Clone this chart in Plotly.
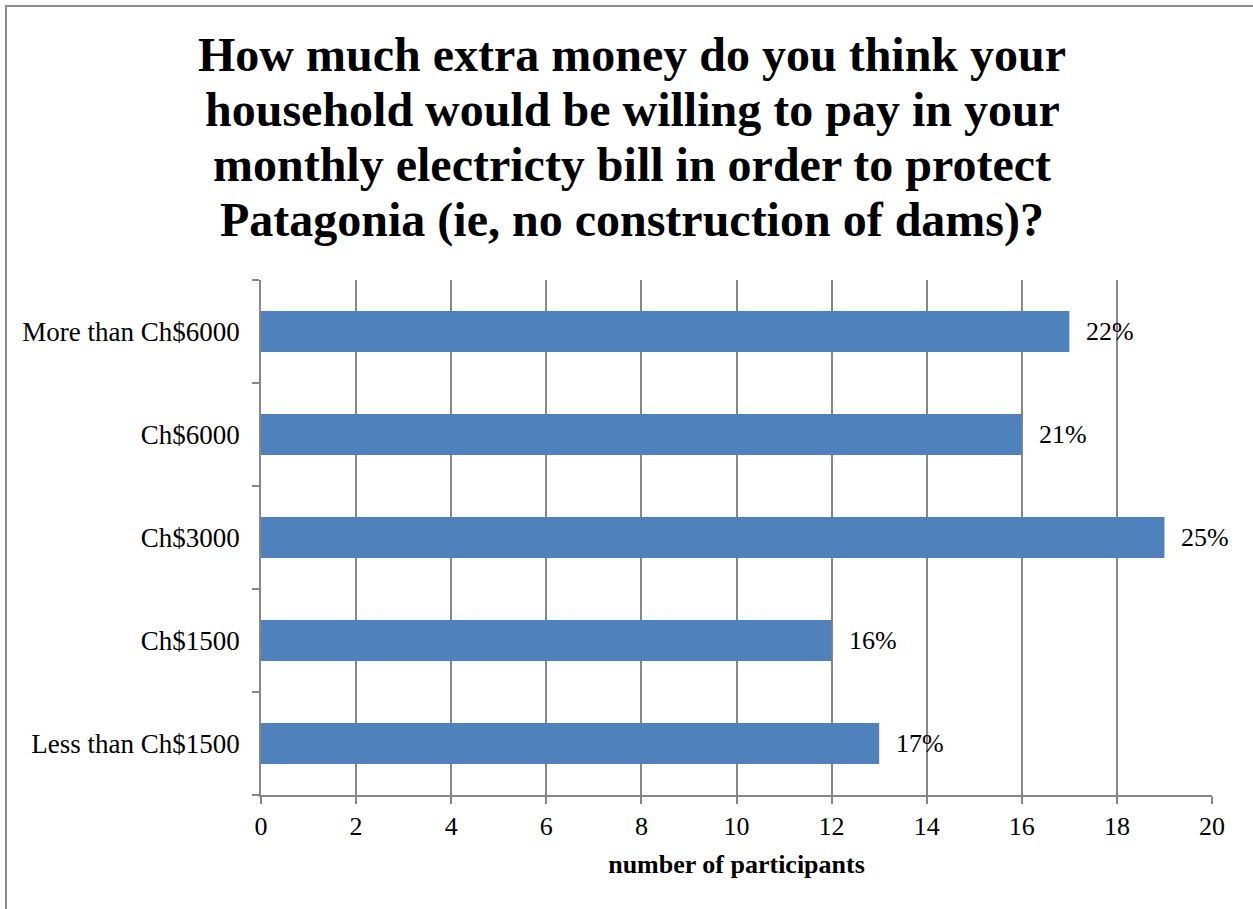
import plotly.graph_objects as go

# Survey answers, listed bottom-to-top as they appear on the category axis
categories = ["Less than Ch$1500", "Ch$1500", "Ch$3000", "Ch$6000", "More than Ch$6000"]
participants = [13, 12, 19, 16, 17]
percent_labels = ["17%", "16%", "25%", "21%", "22%"]

title_lines = [
    "How much extra money do you think your",
    "household would be willing to pay in your",
    "monthly electricty bill in order to protect",
    "Patagonia (ie, no construction of dams)?",
]
x_ticks = list(range(0, 21, 2))

SERIF = "Liberation Serif, Times New Roman, serif"
GRID = "#878787"
BAR = "#4F81BD"

fig = go.Figure(
    go.Bar(
        y=categories,
        x=participants,
        orientation="h",
        width=0.4,
        marker=dict(color=BAR, line=dict(width=0)),
        hoverinfo="skip",
    )
)

annotations = []
# value labels to the right of each bar
for cat, val, lab in zip(categories, participants, percent_labels):
    annotations.append(dict(
        x=val, y=cat, xref="x", yref="y", text=lab, showarrow=False,
        xanchor="left", yanchor="middle", xshift=15,
        font=dict(family=SERIF, size=26, color="black"),
    ))

# multi-line bold title, one line per annotation
title_y = [1.438, 1.331, 1.224, 1.117]
for line, yy in zip(title_lines, title_y):
    annotations.append(dict(
        x=(632 - 261) / 951, y=yy, xref="paper", yref="paper", text=f"<b>{line}</b>",
        showarrow=False, xanchor="center", yanchor="middle",
        font=dict(family=SERIF, size=48, color="black"),
    ))

fig.update_layout(
    width=1253,
    height=909,
    margin=dict(l=261, r=41, t=280, b=114),
    paper_bgcolor="white",
    plot_bgcolor="white",
    showlegend=False,
    annotations=annotations,
    shapes=[dict(
        type="rect", xref="paper", yref="paper",
        x0=(6 - 261) / 951, x1=(1262 - 261) / 951,
        y0=(795 - 920) / 515, y1=(795 - 6) / 515,
        line=dict(color="#8c8c8c", width=2), fillcolor="rgba(0,0,0,0)", layer="below",
    )],
    xaxis=dict(
        range=[0, 20],
        tickvals=x_ticks,
        ticktext=[str(t) for t in x_ticks],
        showgrid=True, gridcolor=GRID, gridwidth=1.5,
        zeroline=False,
        showline=True, linecolor=GRID, linewidth=1.5,
        ticks="outside", ticklen=7, tickcolor=GRID, tickwidth=1.5,
        tickfont=dict(family=SERIF, size=26, color="black"),
        title=dict(text="<b>number of participants</b>", standoff=15,
                   font=dict(family=SERIF, size=26, color="black")),
        fixedrange=True,
    ),
    yaxis=dict(
        type="category",
        categoryorder="array", categoryarray=categories,
        range=[-0.5, 4.5],
        showgrid=False, zeroline=False,
        showline=True, linecolor=GRID, linewidth=1.5,
        ticks="outside", ticklen=7, tickcolor=GRID, tickwidth=1.5,
        tickson="boundaries",
        ticklabelstandoff=14,
        tickfont=dict(family=SERIF, size=27, color="black"),
        fixedrange=True,
    ),
)

fig.write_html("out.html")
